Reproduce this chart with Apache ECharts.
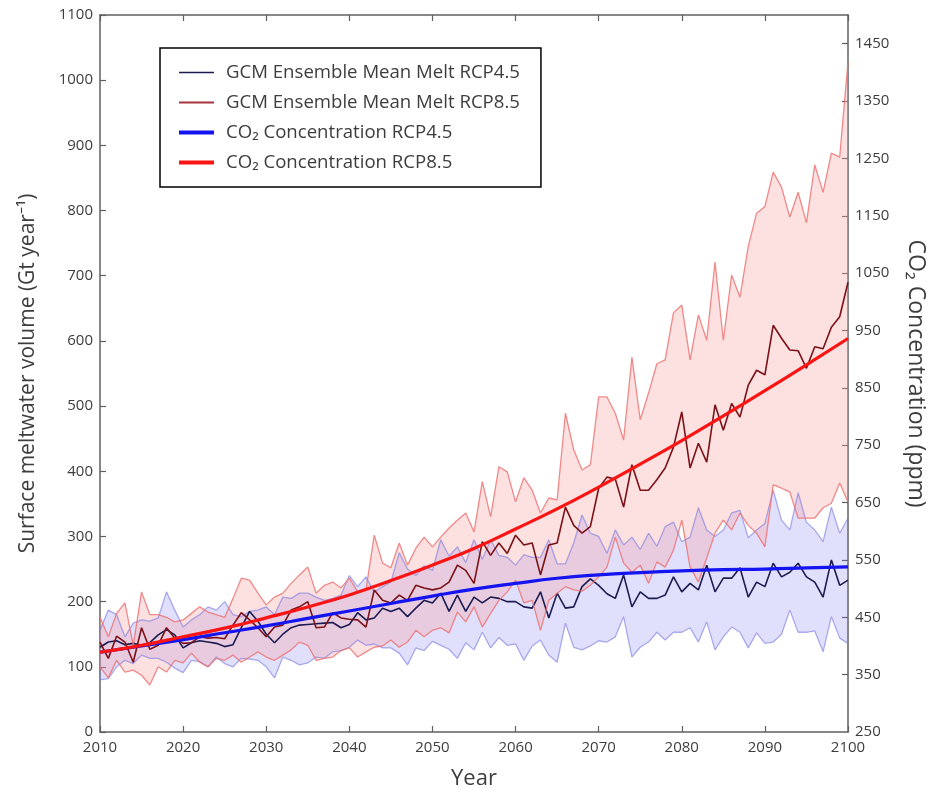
<!DOCTYPE html>
<html>
<head>
<meta charset="utf-8">
<script src="https://cdn.jsdelivr.net/npm/echarts@6/dist/echarts.min.js"></script>
<style>
  html, body { margin: 0; background: #fff; }
  #chart { width: 933px; height: 792px; }
</style>
</head>
<body>
<div id="chart"></div>
<script>
// years of the annual model output
const years = Array.from({ length: 91 }, (_, i) => String(2010 + i))

// GCM ensemble mean melt (Gt/yr)
const melt45 = [
  130, 138, 140, 134, 136, 133, 137, 149, 157, 149,
  129, 137, 140, 138, 136, 131, 134, 160, 185, 170,
  150, 137, 150, 160, 164, 165, 166, 167, 168, 160,
  165, 183, 172, 175, 190, 185, 190, 177, 190, 202,
  198, 213, 185, 210, 185, 207, 198, 207, 205, 200,
  200, 192, 190, 215, 175, 213, 190, 192, 223, 235,
  225, 212, 205, 241, 192, 215, 205, 205, 210, 238,
  215, 228, 218, 256, 215, 236, 236, 252, 207, 230,
  223, 259, 238, 245, 259, 238, 230, 207, 264, 225,
  233
]
const melt85 = [
  138, 113, 147, 138, 107, 160, 127, 133, 160, 144,
  136, 137, 146, 144, 145, 143, 164, 183, 172, 160,
  146, 161, 164, 187, 192, 200, 160, 161, 183, 175,
  173, 172, 161, 218, 202, 198, 210, 202, 225, 221,
  218, 221, 230, 256, 248, 228, 292, 271, 290, 274,
  302, 287, 290, 241, 287, 290, 345, 317, 305, 315,
  374, 391, 388, 345, 410, 371, 371, 387, 405, 437,
  491, 405, 443, 414, 502, 463, 504, 483, 532, 555,
  548, 624, 604, 586, 585, 558, 591, 588, 621, 637,
  690
]

// ensemble spread (Gt/yr)
const lo45 = [
  80, 82, 100, 110, 105, 118, 113, 113, 107, 98,
  91, 110, 108, 100, 115, 105, 100, 113, 112, 110,
  100, 83, 115, 110, 103, 106, 115, 113, 123, 125,
  130, 141, 133, 135, 129, 129, 121, 103, 129, 125,
  139, 133, 127, 113, 137, 126, 153, 129, 145, 133,
  135, 110, 132, 141, 118, 107, 167, 130, 126, 132,
  140, 138, 146, 177, 115, 130, 138, 153, 141, 153,
  153, 160, 138, 169, 126, 146, 161, 153, 129, 152,
  136, 138, 150, 187, 153, 153, 155, 123, 177, 144,
  136
]
const up45 = [
  156, 187, 180, 146, 167, 172, 170, 175, 215, 187,
  161, 172, 180, 192, 187, 200, 180, 177, 185, 187,
  192, 180, 207, 205, 213, 213, 207, 202, 205, 210,
  240, 223, 238, 215, 223, 230, 275, 250, 240, 255,
  248, 295, 270, 284, 260, 295, 265, 295, 271, 268,
  256, 272, 268, 268, 295, 258, 258, 290, 333, 305,
  300, 274, 310, 287, 299, 280, 305, 285, 315, 322,
  292, 299, 344, 310, 300, 310, 336, 340, 298, 310,
  320, 371, 325, 310, 367, 322, 310, 292, 345, 305,
  328
]
const lo85 = [
  100, 83, 110, 92, 95, 87, 72, 100, 92, 110,
  106, 121, 107, 100, 113, 110, 118, 107, 115, 123,
  115, 110, 118, 126, 138, 133, 110, 113, 115, 125,
  129, 115, 123, 130, 132, 141, 130, 138, 156, 146,
  156, 160, 152, 184, 169, 192, 161, 182, 202, 215,
  233, 198, 202, 156, 202, 213, 223, 218, 216, 225,
  238, 253, 299, 259, 245, 256, 228, 261, 253, 279,
  325, 253, 230, 267, 305, 325, 310, 336, 317, 305,
  284, 379, 374, 368, 328, 328, 328, 344, 351, 382,
  353
]
const up85 = [
  176, 146, 182, 198, 133, 215, 180, 180, 176, 169,
  172, 182, 192, 184, 180, 176, 205, 236, 233, 213,
  195, 207, 213, 228, 241, 253, 213, 225, 230, 221,
  236, 215, 218, 302, 259, 252, 290, 256, 282, 299,
  284, 299, 313, 325, 336, 307, 384, 330, 407, 399,
  353, 390, 371, 336, 359, 356, 489, 433, 402, 410,
  514, 514, 489, 448, 575, 479, 520, 565, 571, 643,
  655, 571, 640, 601, 721, 601, 701, 667, 745, 796,
  806, 859, 836, 790, 828, 781, 870, 828, 888, 882,
  1028
]

// CO2 concentration (ppm), every 5 years
const co2Years = [2010, 2015, 2020, 2025, 2030, 2035, 2040, 2045, 2050, 2055, 2060, 2065, 2070, 2075, 2080, 2085, 2090, 2095, 2100]
const co2Rcp45 = [389, 400, 411, 423, 435, 448, 461, 474, 487, 499, 509, 518, 524, 528, 531, 533, 534, 536, 538]
const co2Rcp85 = [389, 401, 416, 431, 449, 468, 489, 514, 541, 570, 604, 639, 677, 717, 758, 801, 845, 890, 936]

// right axis tick labels
const co2Ticks = [250, 350, 450, 550, 650, 750, 850, 950, 1050, 1150, 1250, 1350, 1450]

const NAME_M45 = 'GCM Ensemble Mean Melt RCP4.5'
const NAME_M85 = 'GCM Ensemble Mean Melt RCP8.5'
const NAME_C45 = 'CO₂ Concentration RCP4.5'
const NAME_C85 = 'CO₂ Concentration RCP8.5'

const FONT = 'Open Sans'
const TXT = '#3d3d3d'
const AXIS = '#606060'

const pairs = (xs, ys) => xs.map((x, i) => [x, ys[i]])
const diff = (a, b) => a.map((v, i) => v - b[i])

const edge45 = 'rgba(120, 120, 225, 0.6)'
const fill45 = 'rgba(120, 120, 240, 0.23)'
const edge85 = 'rgba(238, 110, 110, 0.8)'
const fill85 = 'rgba(248, 160, 160, 0.32)'

// spread band = lower line + stacked (upper - lower) with fill
function band (key, lo, up, edge, fill) {
  return [
    {
      name: key + '-lo',
      type: 'line',
      stack: key,
      symbol: 'none',
      data: lo,
      lineStyle: { color: edge, width: 1.3 }
    },
    {
      name: key + '-up',
      type: 'line',
      stack: key,
      symbol: 'none',
      data: diff(up, lo),
      lineStyle: { color: edge, width: 1.3 },
      areaStyle: { color: fill, opacity: 1 }
    }
  ]
}

const chart = echarts.init(document.getElementById('chart'))

const axisLine = { show: true, lineStyle: { color: AXIS, width: 1.5 } }
const axisTick = { show: true, inside: true, length: 6, lineStyle: { color: AXIS, width: 1.2 } }
const axisLabel = { color: TXT, fontFamily: FONT, fontSize: 15, formatter: v => String(v) }

chart.setOption({
  animation: false,
  backgroundColor: '#fff',
  textStyle: { fontFamily: FONT },
  grid: { left: 100, right: 85, top: 15, bottom: 60, containLabel: false, outerBoundsMode: 'none' },
  legend: {
    data: [
      { name: NAME_M45, lineStyle: { width: 1.6 } },
      { name: NAME_M85, lineStyle: { width: 1.8, color: '#a3353c' } },
      { name: NAME_C45, lineStyle: { width: 4 } },
      { name: NAME_C85, lineStyle: { width: 4 } }
    ],
    orient: 'vertical',
    left: 160,
    top: 48,
    padding: [15, 21, 15, 17],
    itemWidth: 35,
    itemHeight: 14,
    itemGap: 11,
    itemStyle: { opacity: 0 },
    borderColor: '#000',
    borderWidth: 1.5,
    textStyle: { color: TXT, fontFamily: FONT, fontSize: 18.6, padding: [0, 0, 0, 7] }
  },
  xAxis: [
    {
      type: 'category',
      data: years,
      boundaryGap: false,
      axisLine,
      axisTick: { ...axisTick, interval: 9, alignWithLabel: true },
      splitLine: { show: false },
      axisLabel: { color: TXT, fontFamily: FONT, fontSize: 15, interval: 9, margin: 8 },
      name: 'Year',
      nameLocation: 'middle',
      nameGap: 36,
      nameTextStyle: { color: TXT, fontFamily: FONT, fontSize: 22 }
    },
    {
      type: 'value',
      position: 'top',
      min: 2010,
      max: 2100,
      interval: 10,
      axisLine,
      axisTick,
      splitLine: { show: false },
      axisLabel: { show: false }
    }
  ],
  yAxis: [
    {
      type: 'value',
      min: 0,
      max: 1100,
      interval: 100,
      axisLine,
      axisTick,
      splitLine: { show: false },
      axisLabel: { ...axisLabel, margin: 7 },
      name: 'Surface meltwater volume (Gt year⁻¹)',
      nameLocation: 'middle',
      nameGap: 61,
      nameTextStyle: { color: TXT, fontFamily: FONT, fontSize: 21 }
    },
    {
      type: 'value',
      position: 'right',
      min: 250,
      max: 1500,
      interval: 50,
      axisLine,
      axisTick: { ...axisTick, customValues: co2Ticks.slice(1) },
      splitLine: { show: false },
      axisLabel: { ...axisLabel, margin: 7, customValues: co2Ticks },
      name: 'CO₂ Concentration (ppm)',
      nameLocation: 'middle',
      nameRotate: -90,
      nameGap: 56,
      nameTextStyle: { color: TXT, fontFamily: FONT, fontSize: 23 }
    }
  ],
  series: [
    ...band('b45', lo45, up45, edge45, fill45),
    {
      name: NAME_M45,
      type: 'line',
      symbol: 'none',
      data: melt45,
      color: '#1c1c52',
      lineStyle: { color: '#1c1c52', width: 1.6 }
    },
    ...band('b85', lo85, up85, edge85, fill85),
    {
      name: NAME_M85,
      type: 'line',
      symbol: 'none',
      data: melt85,
      color: '#7a1218',
      lineStyle: { color: '#7a1218', width: 1.6 }
    },
    {
      name: NAME_C45,
      type: 'line',
      xAxisIndex: 1,
      yAxisIndex: 1,
      symbol: 'none',
      smooth: true,
      data: pairs(co2Years, co2Rcp45),
      color: '#1414f0',
      lineStyle: { color: '#1414f0', width: 3.2 }
    },
    {
      name: NAME_C85,
      type: 'line',
      xAxisIndex: 1,
      yAxisIndex: 1,
      symbol: 'none',
      smooth: true,
      data: pairs(co2Years, co2Rcp85),
      color: '#fa1414',
      lineStyle: { color: '#fa1414', width: 3.2 }
    }
  ]
})
</script>
</body>
</html>
